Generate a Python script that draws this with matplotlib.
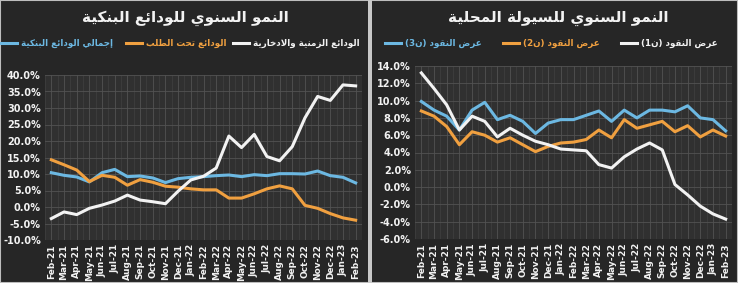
import matplotlib
matplotlib.use("Agg")
import matplotlib.pyplot as plt
from matplotlib.patches import Rectangle
from matplotlib.lines import Line2D

# الأشهر (محور السينات)
months = ["Feb-21", "Mar-21", "Apr-21", "May-21", "Jun-21", "Jul-21", "Aug-21",
          "Sep-21", "Oct-21", "Nov-21", "Dec-21", "Jan-22", "Feb-22", "Mar-22",
          "Apr-22", "May-22", "Jun-22", "Jul-22", "Aug-22", "Sep-22", "Oct-22",
          "Nov-22", "Dec-22", "Jan-23", "Feb-23"]

# الودائع البنكية (%)
time_savings = [-3.5, -1.5, -2.3, -0.4, 0.6, 1.8, 3.6, 2.1, 1.6, 1.0, 4.8, 8.2,
                9.3, 11.8, 21.5, 18.0, 22.0, 15.3, 14.0, 18.3, 27.0, 33.5,
                32.3, 37.0, 36.7]
demand = [14.3, 12.8, 11.2, 7.7, 9.6, 9.0, 6.6, 8.3, 7.5, 6.3, 6.0, 5.5, 5.2,
          5.2, 2.7, 2.7, 4.0, 5.5, 6.4, 5.5, 0.5, -0.4, -2.0, -3.3, -4.0]
total_deposits = [10.4, 9.6, 9.1, 7.6, 10.4, 11.4, 9.2, 9.4, 8.8, 7.4, 8.6,
                  9.0, 9.2, 9.5, 9.7, 9.2, 9.8, 9.5, 10.1, 10.1, 10.0, 10.9,
                  9.5, 9.0, 7.3]

# السيولة المحلية (%)
m1 = [13.2, 11.4, 9.5, 6.6, 8.2, 7.6, 5.8, 6.8, 6.0, 5.3, 4.9, 4.4, 4.3, 4.2,
      2.6, 2.2, 3.5, 4.4, 5.1, 4.3, 0.3, -0.9, -2.2, -3.1, -3.7]
m2 = [8.8, 8.2, 7.0, 4.9, 6.4, 6.0, 5.2, 5.7, 4.9, 4.1, 4.7, 5.1, 5.2, 5.5,
      6.6, 5.7, 7.8, 6.8, 7.2, 7.6, 6.4, 7.1, 5.8, 6.6, 5.9]
m3 = [9.9, 8.9, 8.2, 6.6, 8.9, 9.8, 7.8, 8.3, 7.6, 6.2, 7.4, 7.8, 7.8, 8.3,
      8.8, 7.6, 8.9, 8.0, 8.9, 8.9, 8.7, 9.4, 8.0, 7.8, 6.5]

WHITE = "#f2f2f2"
ORANGE = "#f0a040"
BLUE = "#6cb8e2"
BG = "#262626"
AX_BG = "#303030"
GRID = "#525252"

W, H = 738, 283

# تشكيل الحروف العربية يدويا (matplotlib لا يدعم التشكيل والاتجاه)
FORMS = {
    "ء": (0xFE80, 1), "آ": (0xFE81, 2), "أ": (0xFE83, 2), "ؤ": (0xFE85, 2),
    "إ": (0xFE87, 2), "ئ": (0xFE89, 4), "ا": (0xFE8D, 2), "ب": (0xFE8F, 4),
    "ة": (0xFE93, 2), "ت": (0xFE95, 4), "ث": (0xFE99, 4), "ج": (0xFE9D, 4),
    "ح": (0xFEA1, 4), "خ": (0xFEA5, 4), "د": (0xFEA9, 2), "ذ": (0xFEAB, 2),
    "ر": (0xFEAD, 2), "ز": (0xFEAF, 2), "س": (0xFEB1, 4), "ش": (0xFEB5, 4),
    "ص": (0xFEB9, 4), "ض": (0xFEBD, 4), "ط": (0xFEC1, 4), "ظ": (0xFEC5, 4),
    "ع": (0xFEC9, 4), "غ": (0xFECD, 4), "ف": (0xFED1, 4), "ق": (0xFED5, 4),
    "ك": (0xFED9, 4), "ل": (0xFEDD, 4), "م": (0xFEE1, 4), "ن": (0xFEE5, 4),
    "ه": (0xFEE9, 4), "و": (0xFEED, 2), "ى": (0xFEEF, 2), "ي": (0xFEF1, 4),
}
LAMALEF = {"آ": 0xFEF5, "أ": 0xFEF7, "إ": 0xFEF9, "ا": 0xFEFB}


def ar(text):
    out = []
    n = len(text)
    i = 0
    while i < n:
        c = text[i]
        if c not in FORMS:
            out.append(c)
            i += 1
            continue
        prev = text[i - 1] if i > 0 else ""
        joins_prev = prev in FORMS and FORMS[prev][1] == 4
        if c == "ل" and i + 1 < n and text[i + 1] in LAMALEF:
            out.append(chr(LAMALEF[text[i + 1]] + (1 if joins_prev else 0)))
            i += 2
            continue
        nxt = text[i + 1] if i + 1 < n else ""
        base, k = FORMS[c]
        joins_next = k == 4 and nxt in FORMS
        if k == 1:
            form = 0
        elif joins_prev and joins_next:
            form = 3
        elif joins_prev:
            form = 1
        elif joins_next:
            form = 2
        else:
            form = 0
        out.append(chr(base + form))
        i += 1
    return "".join(out)[::-1].translate(str.maketrans("()", ")("))


plt.rcParams["font.family"] = ["DejaVu Sans"]

fig = plt.figure(figsize=(W / 100, H / 100), dpi=100, facecolor=BG)
renderer = fig.canvas.get_renderer()


def px_axes(x0, y0, x1, y1):
    return fig.add_axes([x0 / W, 1 - y1 / H, (x1 - x0) / W, (y1 - y0) / H])


def style_axes(ax, ymin, ymax, step):
    ax.set_facecolor(AX_BG)
    ax.set_xlim(-0.5, len(months) - 0.5)
    ax.set_ylim(ymin, ymax)
    ax.set_xticks(range(len(months)))
    ax.set_xticklabels(months, rotation=90, fontsize=6.5, fontweight="bold", color=WHITE)
    yt = [ymin + step * k for k in range(int(round((ymax - ymin) / step)) + 1)]
    ax.set_yticks(yt)
    ax.set_yticklabels([f"{v:.1f}%" for v in yt], fontsize=7, fontweight="bold", color=WHITE)
    ax.tick_params(length=0, pad=3)
    ax.set_xticks([k + 0.5 for k in range(-1, len(months))], minor=True)
    ax.grid(True, which="major", color=GRID, lw=0.6)
    ax.grid(True, which="minor", axis="x", color=GRID, lw=0.4, alpha=0.6)
    ax.tick_params(which="minor", length=0)
    ax.set_axisbelow(True)
    for s in ax.spines.values():
        s.set_visible(False)


x = list(range(len(months)))

ax1 = px_axes(45, 75, 362, 240)
style_axes(ax1, -10, 40, 5)
ax1.plot(x, total_deposits, color=BLUE, lw=2.2, solid_joinstyle="round")
ax1.plot(x, demand, color=ORANGE, lw=2.2, solid_joinstyle="round")
ax1.plot(x, time_savings, color=WHITE, lw=2.2, solid_joinstyle="round")

ax2 = px_axes(415, 66, 732, 239)
style_axes(ax2, -6, 14, 2)
ax2.plot(x, m3, color=BLUE, lw=2.2, solid_joinstyle="round")
ax2.plot(x, m2, color=ORANGE, lw=2.2, solid_joinstyle="round")
ax2.plot(x, m1, color=WHITE, lw=2.2, solid_joinstyle="round")


def ftext(px, py, s, **kw):
    return fig.text(px / W, 1 - py / H, s, **kw)


def legend_item(x_text_right, y, label, color):
    t = ftext(x_text_right, y, ar(label), ha="right", va="center", fontsize=6.3,
              fontweight="bold", color=color)
    left = t.get_window_extent(renderer).x0
    x1 = left - 4
    x0 = x1 - 16
    fig.add_artist(Line2D([x0 / W, x1 / W], [1 - y / H, 1 - y / H],
                          color=color, lw=2.2, transform=fig.transFigure))


ftext(185, 18, ar("النمو السنوي للودائع البنكية"), ha="center", va="center",
      fontsize=11, fontweight="bold", color=WHITE)
ftext(558, 18, ar("النمو السنوي للسيولة المحلية"), ha="center", va="center",
      fontsize=11, fontweight="bold", color=WHITE)

legend_item(360, 43, "الودائع الزمنية والادخارية", WHITE)
legend_item(226, 43, "الودائع تحت الطلب", ORANGE)
legend_item(113, 43, "إجمالي الودائع البنكية", BLUE)

legend_item(718, 43, "عرض النقود (ن1)", WHITE)
legend_item(600, 43, "عرض النقود (ن2)", ORANGE)
legend_item(482, 43, "عرض النقود (ن3)", BLUE)

# إطار اللوحتين والفاصل بينهما
fig.add_artist(Rectangle((0, 0), 1, 1, transform=fig.transFigure, fill=False,
                         edgecolor="#bdbdbd", lw=1.5))
fig.add_artist(Rectangle((368 / W, 0), 4 / W, 1, transform=fig.transFigure,
                         facecolor="#c8c8c8", edgecolor="none"))

fig.savefig("out.png", dpi=100, facecolor=fig.get_facecolor())
